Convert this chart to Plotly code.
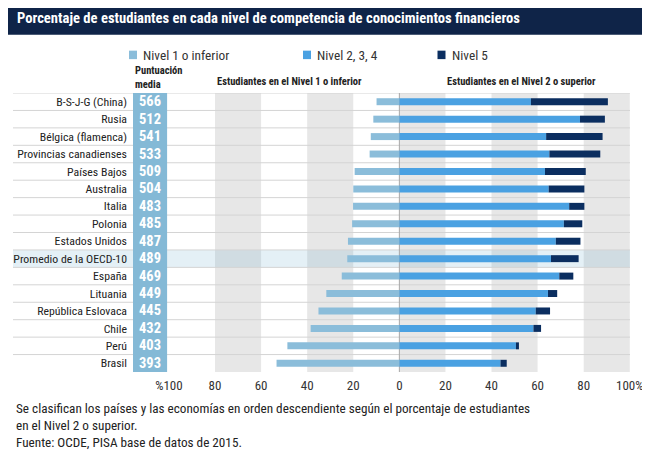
import plotly.graph_objects as go

# values (percent of students)
paises = ['B-S-J-G (China)', 'Rusia', 'Bélgica (flamenca)', 'Provincias canadienses',
          'Países Bajos', 'Australia', 'Italia', 'Polonia', 'Estados Unidos',
          'Promedio de la OECD-10', 'España', 'Lituania', 'República Eslovaca',
          'Chile', 'Perú', 'Brasil']
puntuacion = [566, 512, 541, 533, 509, 504, 483, 485, 487, 489, 469, 449, 445, 432, 403, 393]
nivel1 = [9.9, 11.3, 12.4, 12.9, 19.4, 20.0, 20.1, 20.5, 22.3, 22.6, 25.0, 31.7, 35.1, 38.5, 48.6, 53.3]
nivel234 = [57.1, 78.4, 63.7, 65.1, 63.2, 64.8, 73.7, 71.4, 67.9, 65.8, 69.4, 64.5, 59.2, 58.2, 50.6, 43.9]
nivel5 = [33.4, 10.8, 24.5, 22.1, 17.7, 15.5, 6.6, 8.0, 10.7, 12.0, 6.1, 4.0, 6.2, 3.3, 1.3, 2.7]
tick_vals = [-100, -80, -60, -40, -20, 0, 20, 40, 60, 80, 100]
tick_text = ['%100', '80', '60', '40', '20', '0', '20', '40', '60', '80', '100%']

C_N1 = '#8bbdda'
C_N234 = '#4aa1e2'
C_N5 = '#0b2e60'
C_NAVY = '#0f2448'
C_SCORE = '#84b9d6'
C_BAND = '#e7e7e7'
FONT = 'Roboto Condensed, Liberation Sans Narrow, Roboto, sans-serif'

# the page has an 8px body margin, so the figure is a bit smaller than the window
OFF = 8
W, H = 650 - OFF, 462 - OFF
# plot area in page pixels
X0, X1, Y0, Y1 = 133, 630, 92.5, 372.5


# helpers: page pixel position -> paper coordinates
def px(x):
    return (x - X0) / (X1 - X0)


def py(y):
    return (Y1 - y) / (Y1 - Y0)


fig = go.Figure()
fig.add_trace(go.Bar(y=paises, x=[-v for v in nivel1], orientation='h', width=0.4,
                     marker=dict(color=C_N1, line_width=0), name='Nivel 1 o inferior'))
fig.add_trace(go.Bar(y=paises, x=nivel234, orientation='h', width=0.4,
                     marker=dict(color=C_N234, line_width=0), name='Nivel 2, 3, 4'))
fig.add_trace(go.Bar(y=paises, x=nivel5, orientation='h', width=0.4,
                     marker=dict(color=C_N5, line_width=0), name='Nivel 5'))

shapes = []
# grey bands every other 20 points
for a in [-80, -40, 0, 40, 80]:
    shapes.append(dict(type='rect', layer='below', xref='x', yref='paper', x0=a, x1=a + 20,
                       y0=0, y1=1, fillcolor=C_BAND, line_width=0))
# OECD average row highlight
shapes.append(dict(type='rect', layer='below', xref='paper', yref='y', x0=px(13), x1=1,
                   y0=8.5, y1=9.5, fillcolor='rgba(120,180,210,0.2)', line_width=0))
# row separators
for k in range(len(paises)):
    shapes.append(dict(type='line', layer='below', xref='paper', yref='y', x0=px(13), x1=1,
                       y0=k - 0.5, y1=k - 0.5, line=dict(color='#d4d4d4', width=1)))
# score column
shapes.append(dict(type='rect', layer='below', xref='x', yref='paper', x0=-115.6, x1=-100.8,
                   y0=0, y1=1, fillcolor=C_SCORE, line_width=0))
# zero line
shapes.append(dict(type='line', layer='below', xref='x', yref='paper', x0=0, x1=0,
                   y0=0, y1=1, line=dict(color='#a8a8a8', width=1)))
# title bar
shapes.append(dict(type='rect', xref='paper', yref='paper', x0=px(0), x1=px(650),
                   y0=py(34), y1=py(0), fillcolor=C_NAVY, line_width=0))

annotations = []
for p, s in zip(paises, puntuacion):
    annotations.append(dict(x=-108.3, y=p, xref='x', yref='y', text='<b>%d</b>' % s,
                            xanchor='center', yanchor='middle', showarrow=False,
                            font=dict(family=FONT, size=14.5, color='white')))

annotations.append(dict(x=px(15), y=py(17.5), xref='paper', yref='paper',
                        xanchor='left', yanchor='middle',
                        text='<b>Porcentaje de estudiantes en cada nivel de competencia de conocimientos financieros</b>',
                        showarrow=False, font=dict(family=FONT, size=14.6, color='white')))

# legend drawn by hand (square + label)
for sx, lab, col in [(129, 'Nivel 1 o inferior', C_N1), (303, 'Nivel 2, 3, 4', C_N234),
                     (437.5, 'Nivel 5', C_N5)]:
    shapes.append(dict(type='rect', xref='paper', yref='paper', x0=px(sx), x1=px(sx + 8),
                       y0=py(58.5), y1=py(50), fillcolor=col, line_width=0))
    annotations.append(dict(x=px(sx + 12), y=py(54.5), xref='paper', yref='paper',
                            xanchor='left', yanchor='middle', text=lab, showarrow=False,
                            font=dict(family=FONT, size=13.3, color='#333333')))

annotations.append(dict(x=px(133), y=py(76.5), xref='paper', yref='paper',
                        xanchor='left', yanchor='middle', align='left',
                        text='<b>Puntuación<br>media</b>', showarrow=False,
                        font=dict(family=FONT, size=10.5, color='#222222')))
annotations.append(dict(x=-80, y=py(81), xref='x', yref='paper', xanchor='left', yanchor='middle',
                        text='<b>Estudiantes en el Nivel 1 o inferior</b>', showarrow=False,
                        font=dict(family=FONT, size=10.5, color='#222222')))
annotations.append(dict(x=20, y=py(81), xref='x', yref='paper', xanchor='left', yanchor='middle',
                        text='<b>Estudiantes en el Nivel 2 o superior</b>', showarrow=False,
                        font=dict(family=FONT, size=10.5, color='#222222')))

annotations.append(dict(x=px(14), y=py(426), xref='paper', yref='paper',
                        xanchor='left', yanchor='middle', align='left', showarrow=False,
                        text='Se clasifican los países y las economías en orden descendiente según el porcentaje de estudiantes<br>'
                             'en el Nivel 2 o superior.<br>Fuente: OCDE, PISA base de datos de 2015.',
                        font=dict(family=FONT, size=13.2, color='#222222')))

fig.update_layout(
    width=W, height=H,
    margin=dict(l=X0 - OFF, r=OFF + W - X1, t=Y0 - OFF, b=OFF + H - Y1, autoexpand=False),
    barmode='relative',
    showlegend=False,
    plot_bgcolor='white', paper_bgcolor='white',
    font=dict(family=FONT, size=12, color='#222222'),
    shapes=shapes,
    annotations=annotations,
)
fig.update_xaxes(range=[-115.6, 100.1], tickvals=tick_vals, ticktext=tick_text,
                 showgrid=False, zeroline=False, showline=False, ticks='', automargin=False,
                 ticklabelstandoff=4,
                 tickfont=dict(size=13, color='#333333'), fixedrange=True)
fig.update_yaxes(range=[15.5, -0.5], showgrid=False, zeroline=False, showline=False,
                 ticks='', ticklabelstandoff=5, automargin=False,
                 tickfont=dict(size=11.8, color='#222222'), fixedrange=True)

fig.write_html("out.html")
